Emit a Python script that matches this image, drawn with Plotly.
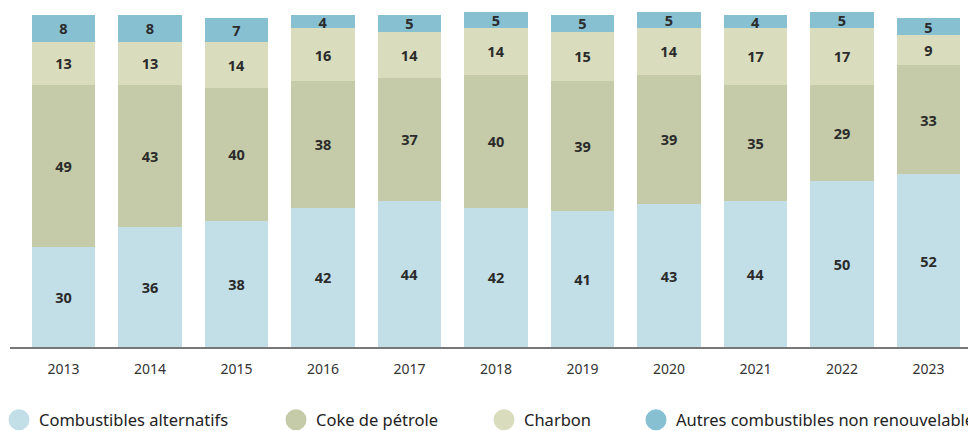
import plotly.graph_objects as go

years = ["2013", "2014", "2015", "2016", "2017", "2018", "2019", "2020", "2021", "2022", "2023"]
alternatifs = [30, 36, 38, 42, 44, 42, 41, 43, 44, 50, 52]
coke = [49, 43, 40, 38, 37, 40, 39, 39, 35, 29, 33]
charbon = [13, 13, 14, 16, 14, 14, 15, 14, 17, 17, 9]
autres = [8, 8, 7, 4, 5, 5, 5, 5, 4, 5, 5]

names = ["Combustibles alternatifs", "Coke de pétrole", "Charbon", "Autres combustibles non renouvelables"]
colors = ["#c2dee7", "#c5cba8", "#d9ddbd", "#86c0d1"]
series = [alternatifs, coke, charbon, autres]

FONT = "Noto Sans"
W, H = 968, 423
ML, MR, MT, MB = 2, 0, 0, 84
PW, PH = W - ML - MR, H - MT - MB
legend_px = [-9, 268, 476, 628]
LEGEND_Y = 412

fig = go.Figure()
for i, (nm, col, vals) in enumerate(zip(names, colors, series)):
    fig.add_trace(go.Bar(
        x=years, y=vals, name=nm, marker=dict(color=col, line=dict(width=0)),
        text=vals, texttemplate="%{text}", textposition="inside",
        insidetextanchor="middle", constraintext="none", textangle=0,
        textfont=dict(family=FONT, size=14.5, color="#2b2b2b", weight="bold"),
        showlegend=False, hoverinfo="skip",
    ))
    lg = "legend" if i == 0 else f"legend{i+1}"
    fig.add_trace(go.Scatter(
        x=[None], y=[None], mode="markers", name=nm,
        marker=dict(color=col, size=16, symbol="circle", line=dict(color=col, width=5)),
        showlegend=True, legend=lg,
    ))

legends = {}
for i, px in enumerate(legend_px):
    key = "legend" if i == 0 else f"legend{i+1}"
    legends[key] = dict(
        xref="paper", yref="paper",
        x=(px - ML) / PW, xanchor="left",
        y=-(LEGEND_Y - MT - PH) / PH, yanchor="middle",
        orientation="h", bgcolor="rgba(0,0,0,0)", itemsizing="trace",
        borderwidth=0,
        font=dict(family=FONT, size=16.5, color="#222222"),
    )

fig.update_layout(
    width=W, height=H, barmode="stack", bargap=0.27,
    margin=dict(l=ML, r=MR, t=MT, b=MB, autoexpand=False),
    plot_bgcolor="white", paper_bgcolor="white",
    uniformtext=dict(minsize=14.5, mode="show"),
    xaxis=dict(range=[-0.618, 10.549], showgrid=False, showline=True,
               linecolor="#777777", linewidth=1.5, ticks="",
               ticklabelstandoff=8,
               tickfont=dict(family=FONT, size=14, color="#333333")),
    yaxis=dict(range=[0, 102.1], visible=False),
    **legends,
)

fig.write_html("out.html")
